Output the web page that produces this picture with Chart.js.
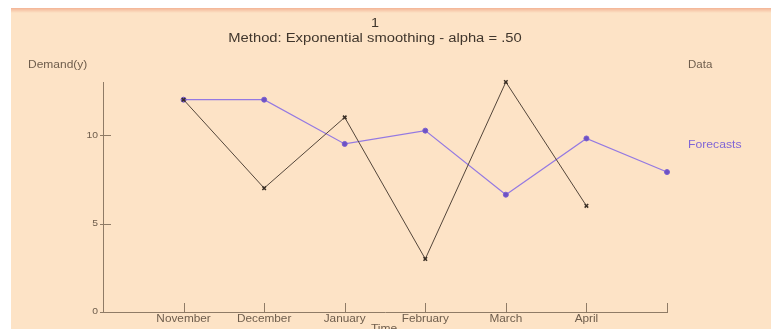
<!DOCTYPE html>
<html>
<head>
<meta charset="utf-8">
<script src="https://cdn.jsdelivr.net/npm/chart.js@4/dist/chart.umd.min.js"></script>
<style>
  html, body { margin: 0; padding: 0; background: #ffffff; }
  #wrap { position: absolute; left: 11px; top: 8px; width: 760px; height: 321px; }
</style>
</head>
<body>
<div id="wrap"><canvas id="chart"></canvas></div>
<script>
// values
const months = ['', 'November', 'December', 'January', 'February', 'March', 'April', ''];
const demand = [null, 12, 7, 11, 3, 13, 6, null];
const forecasts = [null, 12, 12, 9.5, 10.25, 6.63, 9.81, 7.91];
const yTicks = [0, 5, 10];

const axisColor = '#8f7b66';
const textColor = '#6e5d4c';
const FONT = '"Liberation Sans", Arial, sans-serif';

// the original text is a little wide, so stretch it sideways
function wideText(c, str, x, y, align, stretch) {
  c.save();
  c.translate(x, y);
  c.scale(stretch, 1);
  c.textAlign = align;
  c.fillText(str, 0, 0);
  c.restore();
}

// background, top border, inward tick marks, tick labels and free text
const decorPlugin = {
  id: 'decor',
  beforeDraw(chart) {
    const c = chart.ctx;
    const w = chart.width, h = chart.height;
    c.save();
    c.fillStyle = '#fde3c6';
    c.fillRect(0, 0, w, h);
    const g = c.createLinearGradient(0, 0, 0, 5);
    g.addColorStop(0, '#f3b496');
    g.addColorStop(1, '#fde3c6');
    c.fillStyle = g;
    c.fillRect(0, 0, w, 5);
    c.restore();
  },
  afterDraw(chart) {
    const c = chart.ctx;
    const xs = chart.scales.x, ys = chart.scales.y;
    const a = chart.chartArea;
    c.save();
    c.strokeStyle = axisColor;
    c.lineWidth = 1;
    c.beginPath();
    xs.ticks.forEach((t, i) => {
      const px = Math.round(xs.getPixelForTick(i)) + 0.5;
      c.moveTo(px, a.bottom);
      c.lineTo(px, a.bottom - 9);
    });
    ys.ticks.forEach((t, i) => {
      const py = Math.round(ys.getPixelForTick(i)) + 0.5;
      c.moveTo(a.left - 3, py);
      c.lineTo(a.left + 8, py);
    });
    c.stroke();

    c.textBaseline = 'middle';
    c.fillStyle = textColor;
    c.font = '10px ' + FONT;
    xs.ticks.forEach((t, i) => {
      const lab = xs.getLabelForValue(t.value);
      if (lab) wideText(c, lab, xs.getPixelForTick(i), a.bottom + 7, 'center', 1.18);
    });
    c.font = '9px ' + FONT;
    ys.ticks.forEach((t, i) => {
      wideText(c, String(t.value), a.left - 5, ys.getPixelForTick(i), 'right', 1.15);
    });

    c.fillStyle = '#40362c';
    c.font = '12px ' + FONT;
    wideText(c, '1', 364, 16, 'center', 1.2);
    wideText(c, 'Method: Exponential smoothing - alpha = .50', 364, 31, 'center', 1.23);

    c.font = '10px ' + FONT;
    c.fillStyle = textColor;
    wideText(c, 'Demand(y)', 17, 57, 'left', 1.2);
    wideText(c, 'Data', 677, 57, 'left', 1.15);
    wideText(c, 'Time', 373, 321, 'center', 1.2);
    c.fillStyle = '#8066d6';
    wideText(c, 'Forecasts', 677, 137, 'left', 1.22);
    c.restore();
  }
};

new Chart(document.getElementById('chart'), {
  type: 'line',
  data: {
    labels: months,
    datasets: [
      {
        label: 'Data',
        data: demand,
        borderColor: '#54463a',
        borderWidth: 1,
        pointStyle: 'crossRot',
        pointRadius: 2.5,
        pointBorderColor: '#3a2f25',
        pointBorderWidth: 1.5,
        tension: 0,
        clip: false
      },
      {
        label: 'Forecasts',
        data: forecasts,
        borderColor: '#9479e2',
        borderWidth: 1.2,
        pointStyle: 'circle',
        pointRadius: 2.5,
        pointBackgroundColor: '#6d52c4',
        pointBorderColor: '#7a5fd0',
        pointBorderWidth: 1,
        tension: 0,
        clip: false
      }
    ]
  },
  options: {
    responsive: true,
    maintainAspectRatio: false,
    animation: false,
    events: [],
    layout: { padding: { left: 62, right: 104, top: 74, bottom: 0 } },
    plugins: {
      legend: { display: false },
      title: { display: false },
      tooltip: { enabled: false }
    },
    scales: {
      x: {
        type: 'category',
        offset: false,
        grid: { display: false, drawTicks: false },
        border: { display: true, color: axisColor, width: 1 },
        ticks: { display: false, autoSkip: false },
        afterFit(scale) { scale.height = 17; }
      },
      y: {
        min: 0,
        max: 13,
        grid: { display: false, drawTicks: false },
        border: { display: true, color: axisColor, width: 1 },
        afterBuildTicks(scale) { scale.ticks = yTicks.map(v => ({ value: v })); },
        ticks: { display: false },
        afterFit(scale) { scale.width = 30; }
      }
    }
  },
  plugins: [decorPlugin]
});
</script>
</body>
</html>
